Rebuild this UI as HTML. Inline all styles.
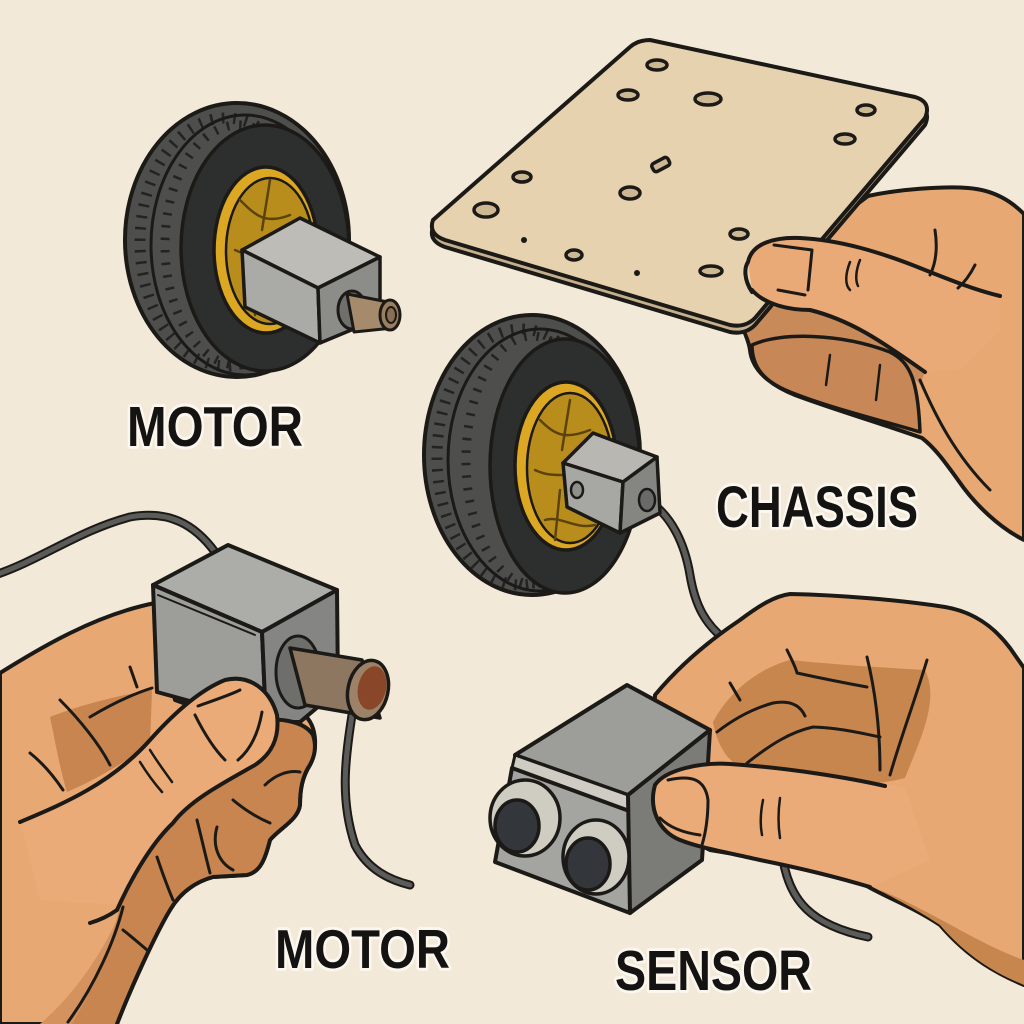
<!DOCTYPE html>
<html><head><meta charset="utf-8"><style>
html,body{margin:0;padding:0;background:#f3e9d8;}
svg{display:block;}
</style></head><body>
<svg width="1024" height="1024" viewBox="0 0 1024 1024" xmlns="http://www.w3.org/2000/svg">
<rect width="1024" height="1024" fill="#f3e9d8"/>
<g stroke="#1c1a17" stroke-linejoin="round" stroke-linecap="round">

<!-- ===== Top-right hand body ===== -->
<path d="M868,196 C900,189 945,186 968,188 C995,190 1012,202 1024,214 L1024,540 C1000,528 975,505 958,480 C945,462 935,448 922,438 C880,423 835,410 795,395 C770,385 752,370 750,350 C748,335 738,325 745,318 L820,232 Z" fill="#e8a874" stroke-width="4"/>
<path d="M740,318 C760,300 800,310 810,310 C850,320 880,340 925,372 L920,385 C900,360 860,340 820,335 C790,333 765,338 752,345 Z" fill="#c98a5a" stroke="none"/>
<path d="M752,345 C780,332 840,333 890,352 C910,362 918,380 920,432 C880,420 830,408 790,392 C765,382 752,368 752,345 Z" fill="#c88757" stroke-width="3.5"/>
<path d="M830,355 L826,385 M880,365 L876,400" fill="none" stroke-width="2.5"/>
<path d="M920,380 C935,415 955,455 990,490" fill="none" stroke-width="3"/>

<!-- ===== Plate ===== -->
<path d="M650,47 L915,104 Q932,109 925,125 L755,325 Q745,335 730,332 L445,247 Q428,241 433,227 L630,54 Q638,47 650,47 Z" fill="#c4b08d" stroke-width="4"/>
<path d="M650,40 L915,97 Q932,102 925,118 L755,318 Q745,328 730,325 L445,240 Q428,234 433,220 L630,47 Q638,40 650,40 Z" fill="#e6d2af" stroke-width="4"/>
<g fill="#cdb894" stroke-width="3.5">
<ellipse cx="657" cy="65" rx="10" ry="5"/>
<ellipse cx="628" cy="95" rx="10" ry="5"/>
<ellipse cx="708" cy="99" rx="13" ry="6"/>
<ellipse cx="866" cy="110" rx="9" ry="5"/>
<ellipse cx="845" cy="139" rx="10" ry="5"/>
<rect x="652" y="160" width="18" height="9" rx="3" transform="rotate(-28 661 165)"/>
<ellipse cx="522" cy="177" rx="9" ry="5"/>
<ellipse cx="630" cy="193" rx="10" ry="6"/>
<ellipse cx="486" cy="210" rx="12" ry="7"/>
<ellipse cx="574" cy="255" rx="8" ry="5"/>
<ellipse cx="739" cy="234" rx="9" ry="5"/>
<ellipse cx="711" cy="271" rx="11" ry="5"/>
</g>
<circle cx="524" cy="240" r="3" fill="#1c1a17" stroke="none"/>
<circle cx="637" cy="273" r="3" fill="#1c1a17" stroke="none"/>

<!-- thumb over plate -->
<path d="M748,262 C752,243 775,237 800,238 C840,240 880,252 920,268 C950,280 975,290 1000,298 L1000,330 L960,370 L925,372 C880,340 850,320 810,310 C790,310 765,305 752,290 Z" fill="#eaaa77" stroke="none"/>
<path d="M752,292 C744,280 744,268 748,262 C752,243 775,237 800,238 C840,240 880,252 920,268 C950,280 975,290 1000,296" fill="none" stroke-width="4"/>
<path d="M752,290 C765,305 790,310 810,310 C850,320 880,340 925,372" fill="none" stroke-width="4"/>
<path d="M774,245 L812,250 L808,290 M778,290 L805,295" fill="none" stroke-width="3"/>
<path d="M850,262 C845,275 845,285 850,290 M860,260 C856,270 855,280 858,286" fill="none" stroke-width="2.5"/>
<path d="M935,230 C938,250 935,265 930,275 M975,265 C970,275 965,282 958,288" fill="none" stroke-width="3"/>

<!-- ===== Top-left wheel ===== -->
<ellipse cx="237" cy="240" rx="112" ry="137" fill="#4e4f4d" stroke-width="4"/>
<ellipse cx="226" cy="242" rx="86" ry="124" fill="none" stroke="#222322" stroke-width="11" stroke-dasharray="2.5 9" stroke-linecap="butt"/>
<ellipse cx="238" cy="245" rx="73" ry="120" fill="none" stroke="#222322" stroke-width="9" stroke-dasharray="2.5 10" stroke-linecap="butt"/>
<ellipse cx="245" cy="245" rx="94" ry="130" fill="none" stroke-width="3"/>
<ellipse cx="265" cy="248" rx="84" ry="123" fill="#2d2e2e" stroke-width="3.5"/>
<ellipse cx="266" cy="250" rx="52" ry="83" fill="#dca722" stroke-width="3.5"/>
<ellipse cx="270" cy="251" rx="44" ry="73" fill="#b98d1c" stroke-width="2.5"/>
<path d="M240,200 C255,215 265,225 290,215 M235,250 C255,260 270,250 300,262 M245,290 C260,285 275,300 295,295 M270,180 L262,230 M260,270 L255,315" fill="none" stroke="#5a430c" stroke-width="2.5"/>
<!-- box -->
<path d="M242,250 L300,218 L380,257 L318,288 Z" fill="#bdbcb7" stroke-width="3.5"/>
<path d="M242,250 L318,288 L320,343 L245,307 Z" fill="#aaaaa6" stroke-width="3.5"/>
<path d="M318,288 L380,257 L380,318 L320,343 Z" fill="#8c8c89" stroke-width="3.5"/>
<ellipse cx="352" cy="310" rx="14" ry="19" fill="#6f6f6c" stroke-width="3"/>
<path d="M347,294 L388,302 L393,328 L354,332 Z" fill="#a58a6b" stroke-width="3"/>
<ellipse cx="390" cy="315" rx="10" ry="15" fill="#9a7e60" stroke-width="3"/>
<ellipse cx="391" cy="315" rx="5" ry="8" fill="#8a6f54" stroke-width="2"/>

<!-- ===== Center wheel cable ===== -->
<path d="M647,500 C672,515 685,545 690,575 C695,605 705,625 728,642" fill="none" stroke="#1c1a17" stroke-width="9"/>
<path d="M647,500 C672,515 685,545 690,575 C695,605 705,625 728,642" fill="none" stroke="#5b5c5a" stroke-width="5"/>

<!-- ===== Center wheel ===== -->
<ellipse cx="532" cy="455" rx="108" ry="140" fill="#4e4f4d" stroke-width="4"/>
<ellipse cx="521" cy="457" rx="84" ry="128" fill="none" stroke="#222322" stroke-width="11" stroke-dasharray="2.5 9" stroke-linecap="butt"/>
<ellipse cx="532" cy="460" rx="66" ry="124" fill="none" stroke="#222322" stroke-width="9" stroke-dasharray="2.5 10" stroke-linecap="butt"/>
<ellipse cx="540" cy="460" rx="92" ry="131" fill="none" stroke-width="3"/>
<ellipse cx="565" cy="466" rx="75" ry="127" fill="#2d2e2e" stroke-width="3.5"/>
<ellipse cx="566" cy="466" rx="51" ry="84" fill="#dca722" stroke-width="3.5"/>
<ellipse cx="570" cy="468" rx="43" ry="75" fill="#b98d1c" stroke-width="2.5"/>
<path d="M540,420 C555,435 565,440 590,430 M535,470 C555,480 570,470 595,480 M545,520 C560,515 575,530 595,525 M570,400 L562,450 M560,490 L555,540" fill="none" stroke="#5a430c" stroke-width="2.5"/>
<path d="M563,463 L593,433 L657,457 L623,482 Z" fill="#b8b7b2" stroke-width="3.5"/>
<path d="M563,463 L623,482 L620,533 L567,507 Z" fill="#a7a7a3" stroke-width="3.5"/>
<path d="M623,482 L657,457 L660,513 L620,533 Z" fill="#858582" stroke-width="3.5"/>
<ellipse cx="577" cy="490" rx="6" ry="8" fill="#8f8f8c" stroke-width="2.5"/>
<ellipse cx="647" cy="500" rx="8" ry="11" fill="#6a6a68" stroke-width="2.5"/>

<!-- ===== Bottom-left cables ===== -->
<path d="M-5,575 C40,560 80,530 130,517 C170,510 195,525 215,552" fill="none" stroke="#1c1a17" stroke-width="9"/>
<path d="M-5,575 C40,560 80,530 130,517 C170,510 195,525 215,552" fill="none" stroke="#5b5c5a" stroke-width="5"/>
<path d="M352,715 C345,760 340,800 355,845 C368,870 390,880 410,885" fill="none" stroke="#1c1a17" stroke-width="9"/>
<path d="M352,715 C345,760 340,800 355,845 C368,870 390,880 410,885" fill="none" stroke="#5b5c5a" stroke-width="5"/>

<!-- ===== Bottom-left hand ===== -->
<path d="M0,673 C40,648 95,615 155,603 L175,700 L230,720 L300,712 C318,722 318,750 310,765 C302,778 300,790 300,805 C298,820 280,828 270,840 C265,860 260,872 247,875 L213,877 C195,882 180,893 170,910 C155,935 130,990 117,1024 L0,1024 Z" fill="#e8a874" stroke-width="4"/>
<path d="M50,717 C80,705 120,695 152,690 L150,745 C120,765 95,780 67,792 C60,770 55,740 50,717 Z" fill="#c8854f" stroke="none"/>
<path d="M123,905 C110,940 80,990 40,1024 L80,1024 C100,990 115,950 123,905 Z" fill="#d4925f" stroke="none"/>
<path d="M60,700 C80,720 100,745 110,765 M30,753 C45,765 55,778 63,790 M130,667 L137,687 M90,717 C110,705 130,695 152,688" fill="none" stroke-width="3"/>

<!-- BL motor box -->
<path d="M153,585 L228,545 L337,590 L262,632 Z" fill="#acaca8" stroke-width="4"/>
<path d="M153,585 L262,632 L266,722 L157,692 Z" fill="#9d9d9a" stroke-width="4"/>
<path d="M262,632 L337,590 L338,690 L300,722 L266,722 Z" fill="#858583" stroke-width="4"/>
<path d="M158,595 L255,635" fill="none" stroke-width="2"/>
<ellipse cx="298" cy="672" rx="22" ry="36" fill="#6e6e6b" stroke-width="3"/>
<path d="M290,648 L362,660 L380,718 L305,705 Z" fill="#8e7760" stroke-width="3.5"/>
<ellipse cx="368" cy="690" rx="20" ry="30" transform="rotate(12 368 690)" fill="#9c8266" stroke-width="3.5"/>
<ellipse cx="372" cy="688" rx="14" ry="22" transform="rotate(12 372 688)" fill="#8a4628" stroke="none"/>

<!-- BL fingers curled (dark) -->
<path d="M255,722 C280,716 305,722 313,735 C318,750 312,762 308,768 C302,778 300,790 300,805 C298,820 280,828 270,840 C265,860 260,872 247,875 L213,877 C195,882 180,893 170,910 C155,935 130,990 117,1024 L72,1024 C95,985 112,945 120,905 C135,870 155,840 173,823 C190,800 225,782 255,765 Z" fill="#c8854f" stroke="none"/>
<path d="M255,722 C280,716 305,722 313,735 C318,750 312,762 308,768 C302,778 300,790 300,805 C298,820 280,828 270,840 C265,860 260,872 247,875 L213,877 C195,882 180,893 170,910 C155,935 130,990 117,1024" fill="none" stroke-width="4"/>
<path d="M233,800 C245,810 258,818 270,823 M197,820 C202,840 206,858 210,873 M157,857 C162,872 168,888 173,900 M123,930 C132,937 140,944 147,950 M217,827 C212,845 218,862 233,870 M300,772 C288,770 275,775 265,785" fill="none" stroke-width="3"/>
<path d="M123,907 C115,940 95,985 68,1022" fill="none" stroke-width="3"/>
<!-- BL thumb -->
<path d="M20,822 C60,805 110,785 150,740 C175,712 200,690 225,680 C250,674 270,690 277,715 C280,740 270,755 255,765 C225,782 190,800 173,823 C155,840 135,870 120,905 L40,900 Z" fill="#eaab79" stroke="none"/>
<path d="M20,822 C60,805 110,785 150,740 C175,712 200,690 225,680 C250,674 270,690 277,715 C280,740 270,755 255,765 C225,782 190,800 173,823 C155,840 135,870 117,910 C110,915 100,920 90,923" fill="none" stroke-width="4"/>
<path d="M198,706 C215,700 230,695 240,690 M195,715 C205,735 215,750 225,760 M262,712 C258,735 250,750 238,760" fill="none" stroke-width="3"/>
<path d="M150,750 C158,763 165,772 172,782 M140,762 C148,775 155,784 162,792" fill="none" stroke-width="2.5"/>

<!-- ===== Bottom-right cable under hand ===== -->
<path d="M783,860 C790,900 810,925 868,937" fill="none" stroke="#1c1a17" stroke-width="9"/>
<path d="M783,860 C790,900 810,925 868,937" fill="none" stroke="#5b5c5a" stroke-width="5"/>

<!-- ===== Bottom-right hand ===== -->
<path d="M655,695 C680,665 710,640 740,620 C760,605 775,596 790,594 C840,595 900,600 945,607 C975,612 995,628 1010,648 L1024,668 L1024,985 C1000,975 970,960 940,925 C910,905 880,895 860,882 C830,872 800,864 770,860 L710,850 L650,820 Z" fill="#e8a874" stroke-width="4"/>
<path d="M880,890 C930,910 980,945 1024,960 L1024,985 C1000,975 970,960 940,925 C910,905 890,897 880,890 Z" fill="#c8864f" stroke="none"/>
<path d="M713,722 C730,690 760,668 790,660 C840,665 890,668 925,670 C940,700 920,740 905,778 C860,790 800,782 760,776 C740,770 720,760 713,722 Z" fill="#c8864f" stroke="none"/>
<path d="M730,683 L740,700 M787,650 C792,660 796,668 797,673 C820,678 845,683 867,687 M717,732 C735,718 755,708 773,703 C790,700 800,705 805,716 M747,763 C770,745 790,732 813,727 C840,728 860,733 880,737 M867,657 C875,690 880,730 880,770 M927,660 C915,700 900,740 890,775" fill="none" stroke-width="3"/>

<!-- sensor -->
<path d="M515,755 L627,685 L710,730 L628,795 Z" fill="#9d9d9a" stroke-width="4"/>
<path d="M515,755 L628,795 L632,812 L512,768 Z" fill="#cfccc3" stroke-width="3"/>
<path d="M512,768 L632,812 L630,913 L495,862 Z" fill="#a4a4a1" stroke-width="4"/>
<path d="M628,795 L710,730 L702,860 L630,913 Z" fill="#7b7b78" stroke-width="4"/>
<ellipse cx="525" cy="818" rx="35" ry="38" fill="#cfccc2" stroke-width="3.5"/>
<ellipse cx="517" cy="826" rx="22" ry="26" fill="#33363a" stroke-width="3.5"/>
<ellipse cx="596" cy="857" rx="33" ry="37" fill="#cfccc2" stroke-width="3.5"/>
<ellipse cx="588" cy="864" rx="22" ry="26" fill="#33363a" stroke-width="3.5"/>

<!-- BR thumb -->
<path d="M655,785 C665,770 700,762 730,764 C790,768 850,778 905,788 L930,860 L870,887 C830,875 790,866 760,860 C730,853 700,848 680,840 C660,832 648,815 655,785 Z" fill="#eaab79" stroke="none"/>
<path d="M655,785 C665,770 700,762 730,764 C790,768 850,778 885,786" fill="none" stroke-width="4"/>
<path d="M655,785 C648,810 660,832 680,840 C700,848 730,853 760,860 C790,866 830,875 870,887" fill="none" stroke-width="4"/>
<path d="M668,780 C690,775 705,778 708,800 C708,820 705,835 702,845 M660,818 C670,828 685,833 700,835" fill="none" stroke-width="3"/>
<path d="M763,800 C760,815 760,825 762,835 M780,798 C778,812 778,825 780,838" fill="none" stroke-width="2.5"/>
</g>

<!-- ===== Labels ===== -->
<g font-family="'Liberation Sans', 'DejaVu Sans', sans-serif" font-weight="700" fill="#141312" stroke="#fbf7ee" stroke-width="6" paint-order="stroke" stroke-linejoin="round">
<text x="127" y="446" font-size="57" textLength="176" lengthAdjust="spacingAndGlyphs">MOTOR</text>
<text x="716" y="527" font-size="58" textLength="202" lengthAdjust="spacingAndGlyphs">CHASSIS</text>
<text x="275" y="968" font-size="55" textLength="175" lengthAdjust="spacingAndGlyphs">MOTOR</text>
<text x="615" y="990" font-size="57" textLength="197" lengthAdjust="spacingAndGlyphs">SENSOR</text>
</g>
</svg>
</body></html>
